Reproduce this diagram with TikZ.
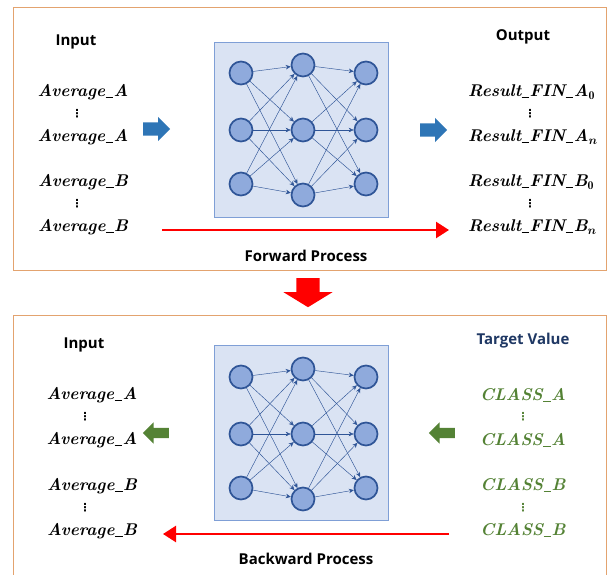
\documentclass[tikz,border=0pt]{standalone}
\usepackage{fontspec}
\usepackage{amsmath,bm}
\usepackage{xcolor}
\usetikzlibrary{shapes.arrows,arrows.meta,positioning}

\newfontfamily\labelfont{Open Sans}
\newfontfamily\symfont{DejaVu Sans}
\newcommand\usc{\kern0.4pt\rule[-1.6pt]{0.45em}{0.9pt}\kern0.4pt}
\definecolor{panelorange}{HTML}{E3A36F}
\definecolor{netfill}{HTML}{DAE3F3}
\definecolor{netborder}{HTML}{7F9FD6}
\definecolor{neuronfill}{HTML}{8FAADC}
\definecolor{neurondark}{HTML}{2F5597}
\definecolor{flowblue}{HTML}{2E75B6}
\definecolor{flowgreen}{HTML}{548235}
\definecolor{targetnavy}{HTML}{1F3864}

\begin{document}
\begin{tikzpicture}[
    x=1pt, y=-1pt,
    panel/.style={draw=panelorange, line width=1pt},
    netbox/.style={rectangle, draw=netborder, fill=netfill, line width=0.8pt, minimum width=174pt, minimum height=175pt},
    neuron/.style={circle, draw=neurondark, fill=neuronfill, line width=1.7pt, minimum size=23pt, inner sep=0pt},
    link/.style={draw=neurondark, line width=0.45pt, -{Stealth[length=5pt,width=4.5pt]}},
    heading/.style={font=\labelfont\bfseries\fontsize{15}{18}\selectfont},
    value/.style={font=\bfseries\itshape\fontsize{17}{19}\selectfont, inner sep=0pt},
    vdot/.style={font=\symfont\bfseries\fontsize{11}{11}\selectfont, inner sep=0pt},
    flow/.style={draw=red, line width=2.5pt, -{Triangle[length=13pt,width=16pt]}},
    bigarrow/.style={single arrow, draw=none, inner xsep=0pt, single arrow head extend=5.5pt, single arrow tip angle=90}
]
\useasboundingbox (0,0) rectangle (608,575);

% panels
\draw [panel] (13,8) rectangle (606,270);
\draw [panel] (606,575) -- (606,315) -- (13,315) -- (13,575);

% forward process
\node [heading] (fin) at (76,42) {Input};
\node [value] (favgA1) at (83,92) {Average\usc A};
\node [vdot] (fdotA) at (77,114) {⋮};
\node [value] (favgA2) at (83,137) {Average\usc A};
\node [value] (favgB1) at (83,182) {Average\usc B};
\node [vdot] (fdotB) at (77,204) {⋮};
\node [value] (favgB2) at (83,227) {Average\usc B};

\node [netbox] (fnet) at (301,129.5) {};
\foreach \n/\x/\y in {11/241/73, 12/241/130, 13/241/184, 21/303/65, 22/303/130, 23/303/195, 31/366/73, 32/366/130, 33/366/184}
    \node [neuron] (f\n) at (\x,\y) {};
\foreach \i in {1,2,3}
    \foreach \j in {1,2,3} {
        \path [link] (f1\i) -- (f2\j);
        \path [link] (f2\i) -- (f3\j);
    }

\node [heading] (fout) at (523,37) {Output};
\node [value, anchor=west] (fresA1) at (468,92) {Result\usc FIN\usc A$_{\mathbf{0}}$};
\node [vdot] (fdotRA) at (530,114) {⋮};
\node [value, anchor=west] (fresA2) at (468,137) {Result\usc FIN\usc A$_{\bm{n}}$};
\node [value, anchor=west] (fresB1) at (468,182) {Result\usc FIN\usc B$_{\mathbf{0}}$};
\node [vdot] (fdotRB) at (530,204) {⋮};
\node [value, anchor=west] (fresB2) at (468,227) {Result\usc FIN\usc B$_{\bm{n}}$};

\node [bigarrow, fill=flowblue, inner ysep=6.5pt, minimum height=27pt, anchor=tail] (fintonet) at (143,129) {};
\node [bigarrow, fill=flowblue, inner ysep=6.5pt, minimum height=27pt, anchor=tail] (fnettoout) at (420,130) {};
\coordinate (fstart) at (162,230);
\coordinate (fend) at (449,230);
\path [flow] (fstart) -- (fend);
\node [heading] (fwd) at (306,256) {Forward Process};

% step down
\node [bigarrow, fill=red, rotate=-90, inner ysep=11.5pt, minimum height=29pt, single arrow head extend=13pt, single arrow tip angle=117, anchor=tail] (godown) at (308,278) {};

% backward process
\node [heading] (bin) at (84,345) {Input};
\node [value] (bavgA1) at (92,395) {Average\usc A};
\node [vdot] (bdotA) at (85,417) {⋮};
\node [value] (bavgA2) at (92,440) {Average\usc A};
\node [value] (bavgB1) at (92,486) {Average\usc B};
\node [vdot] (bdotB) at (85,508) {⋮};
\node [value] (bavgB2) at (92,531) {Average\usc B};

\node [netbox] (bnet) at (301,432.5) {};
\foreach \n/\x/\y in {11/241/73, 12/241/130, 13/241/184, 21/303/65, 22/303/130, 23/303/195, 31/366/73, 32/366/130, 33/366/184}
    \node [neuron] (b\n) at (\x,\y+304) {};
\foreach \i in {1,2,3}
    \foreach \j in {1,2,3} {
        \path [link] (b1\i) -- (b2\j);
        \path [link] (b2\i) -- (b3\j);
    }

\node [heading, text=targetnavy] (target) at (523,341) {Target Value};
\node [value, text=flowgreen] (clsA1) at (523,395) {CLASS\usc A};
\node [vdot, text=flowgreen] (bdotCA) at (523,417) {⋮};
\node [value, text=flowgreen] (clsA2) at (523,440) {CLASS\usc A};
\node [value, text=flowgreen] (clsB1) at (523,485) {CLASS\usc B};
\node [vdot, text=flowgreen] (bdotCB) at (523,508) {⋮};
\node [value, text=flowgreen] (clsB2) at (523,530) {CLASS\usc B};

\node [bigarrow, fill=flowgreen, rotate=180, inner ysep=5pt, minimum height=26pt, anchor=tail] (bnettoin) at (169,433) {};
\node [bigarrow, fill=flowgreen, rotate=180, inner ysep=5pt, minimum height=26pt, anchor=tail] (btargettonet) at (455,433) {};
\coordinate (bstart) at (449,534);
\coordinate (bend) at (163,534);
\path [flow] (bstart) -- (bend);
\node [heading] (bwd) at (306,559) {Backward Process};

\end{tikzpicture}
\end{document}
